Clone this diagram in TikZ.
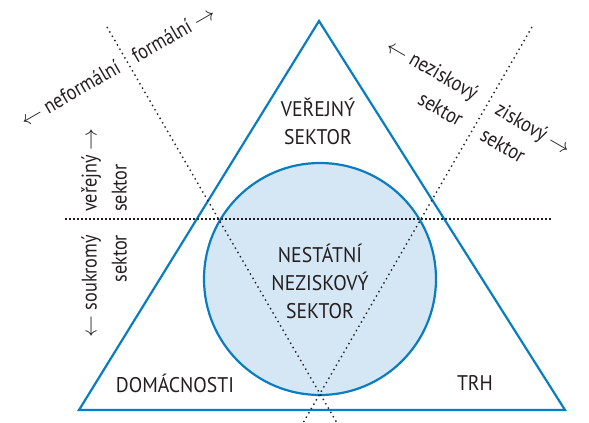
\documentclass[tikz,border=0pt]{standalone}
\usepackage{fontspec}
\setmainfont{PT Sans}[FakeStretch=0.93]
\newfontfamily\axisfont{PT Sans}[FakeStretch=0.86]
\usepackage{xcolor}
\usetikzlibrary{positioning}
\definecolor{accent}{HTML}{0A7DC2}
\definecolor{soft}{HTML}{D5E6F5}
\definecolor{ink}{HTML}{231F20}

\begin{document}
\begin{tikzpicture}[
    x=0.5pt,y=-0.5pt,
    sectorlabel/.style={font=\fontsize{10.6}{14}\selectfont,text=ink,align=center,inner sep=0pt},
    axislabel/.style={font=\axisfont\fontsize{10.6}{15}\selectfont,text=ink,inner sep=0pt},
    edge/.style={draw=accent,line width=1.1pt},
    divider/.style={draw=ink,line width=0.7pt,dash pattern=on 0.7pt off 1.8pt},
    splitline/.style={draw=ink,line width=0.9pt,dash pattern=on 0.9pt off 1.1pt}
  ]
    \useasboundingbox (0,0) rectangle (589,423);
    % corners of the triangle and ends of the dotted lines
    \coordinate (apex) at (319,21);
    \coordinate (bl) at (79,410);
    \coordinate (br) at (565,410);
    \coordinate (c) at (320,279);
    \coordinate (d1a) at (107,27);
    \coordinate (d1b) at (337,423);
    \coordinate (d2a) at (532,27);
    \coordinate (d2b) at (303,423);
    \coordinate (ha) at (65,219);
    \coordinate (hb) at (551,219);
    % circle and triangle
    \fill[soft] (c) circle[radius=116];
    \draw[edge] (c) circle[radius=116];
    \draw[edge,line join=miter] (apex) -- (bl) -- (br) -- cycle;
    % dotted lines
    \draw[divider] (d1a) -- (d1b);
    \draw[divider] (d2a) -- (d2b);
    \draw[splitline] (ha) -- (hb);
    % sectors
    \node[sectorlabel] (verejny) at (318,121) {VEŘEJNÝ\\SEKTOR};
    \node[sectorlabel] (nestatni) at (320,281) {NESTÁTNÍ\\NEZISKOVÝ\\SEKTOR};
    \node[sectorlabel] (domacnosti) at (175,383) {DOMÁCNOSTI};
    \node[sectorlabel] (trh) at (475,383) {TRH};
    % axis labels
    \node[axislabel,rotate=30] (neformalni) at (70,93) {$\leftarrow$ neformální};
    \node[axislabel,rotate=30] (formalni) at (173,34) {formální $\rightarrow$};
    \node[axislabel,rotate=-30,align=right] (nezisk) at (425,82) {$\leftarrow$ neziskový\\sektor};
    \node[axislabel,rotate=-30,align=left] (zisk) at (526,141) {ziskový $\rightarrow$\\sektor};
    \node[axislabel,rotate=90,align=left] (verejnyax) at (104,170) {veřejný $\rightarrow$\\sektor};
    \node[axislabel,rotate=90,align=right] (soukromy) at (104,286) {$\leftarrow$ soukromý\\sektor};
\end{tikzpicture}
\end{document}
